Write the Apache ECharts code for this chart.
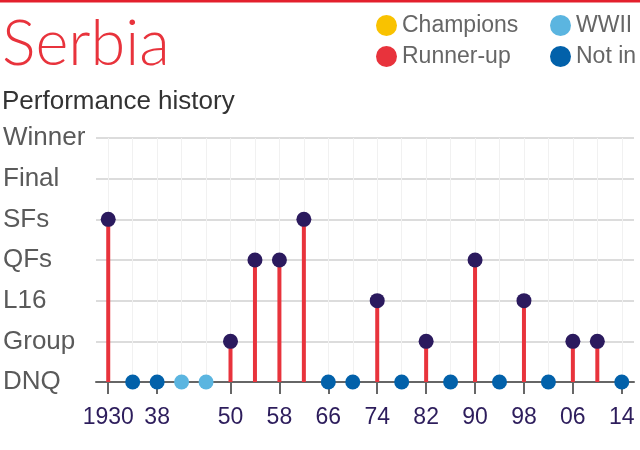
<!DOCTYPE html>
<html>
<head>
<meta charset="utf-8">
<script src="https://cdn.jsdelivr.net/npm/echarts@6/dist/echarts.min.js"></script>
<style>
html,body{margin:0;padding:0;background:#fff;}
#chart{width:640px;height:450px;}
</style>
</head>
<body>
<div id="chart"></div>
<script>
// ---- data ----
const years = [1930,1934,1938,1942,1946,1950,1954,1958,1962,1966,1970,1974,1978,1982,1986,1990,1994,1998,2002,2006,2010,2014];
const results = ['SFs','DNQ','DNQ','WWII','WWII','Group','QFs','QFs','SFs','DNQ','DNQ','L16','DNQ','Group','DNQ','QFs','DNQ','L16','DNQ','Group','Group','DNQ'];
const stageLabels = ['DNQ','Group','L16','QFs','SFs','Final','Winner'];
const tickYears = [1930,1938,1950,1958,1966,1974,1982,1990,1998,2006,2014];
const tickLabels = ['1930','38','50','58','66','74','82','90','98','06','14'];
const legendNames = ['Champions','Runner-up','WWII','Not in'];

const FONT = "'Liberation Sans', Arial, sans-serif";
const level = r => (r === 'WWII' ? 0 : stageLabels.indexOf(r));

const played = [], notIn = [], wwii = [];
years.forEach((y, i) => {
  const r = results[i];
  if (r === 'WWII') wwii.push([y, 0]);
  else if (r === 'DNQ') notIn.push([y, 0]);
  else played.push([y, level(r)]);
});

const chart = echarts.init(document.getElementById('chart'), null, {renderer: 'canvas'});
chart.setOption({
  animation: false,
  backgroundColor: '#ffffff',
  graphic: [{
    type: 'rect', left: 0, top: 0, shape: {width: 640, height: 2.5},
    style: {fill: '#e3202d'}, silent: true
  }],
  title: [{
    text: 'Serbia', left: 2, top: 13, padding: 0,
    textStyle: {fontFamily: 'Lato, sans-serif', fontWeight: 300, fontSize: 63, color: '#e8333c'}
  }, {
    text: 'Performance history', left: 2, top: 89, padding: 0,
    textStyle: {fontFamily: FONT, fontWeight: 'normal', fontSize: 26, color: '#333333'}
  }],
  legend: [{
    orient: 'vertical', left: 371, top: 9, itemGap: 8,
    itemWidth: 21, itemHeight: 21, icon: 'circle',
    data: [legendNames[0], legendNames[1]],
    textStyle: {fontFamily: FONT, fontSize: 23, color: '#666666'}
  }, {
    orient: 'vertical', left: 545, top: 9, itemGap: 8,
    itemWidth: 21, itemHeight: 21, icon: 'circle',
    data: [legendNames[2], legendNames[3]],
    textStyle: {fontFamily: FONT, fontSize: 23, color: '#666666'}
  }],
  grid: {left: 94, right: 6, top: 138, bottom: 68, containLabel: false},
  xAxis: {
    type: 'value', min: 1928, max: 2016,
    axisLine: {show: true, lineStyle: {color: '#666666', width: 2}},
    axisTick: {show: true, length: 12, customValues: tickYears, lineStyle: {color: '#666666', width: 2}},
    axisLabel: {
      show: true, customValues: tickYears, margin: 24,
      fontFamily: FONT, fontSize: 23, color: '#2d1d5c',
      formatter: v => tickLabels[tickYears.indexOf(v)]
    },
    splitLine: {show: false}
  },
  yAxis: {
    type: 'value', min: 0, max: 6, interval: 1,
    axisLine: {show: false}, axisTick: {show: false},
    axisLabel: {
      show: true, align: 'left', margin: 93,
      fontFamily: FONT, fontSize: 26, color: '#5a5a5a',
      formatter: v => stageLabels[v]
    },
    splitLine: {show: true, lineStyle: {color: '#dcdcdc', width: 2}}
  },
  series: [{
    name: 'stems', type: 'bar', barWidth: 4, data: played,
    itemStyle: {color: '#e8333c'}, z: 3, silent: true,
    markLine: {
      silent: true, symbol: 'none', label: {show: false},
      lineStyle: {color: '#f1f1f1', width: 1, type: 'solid'},
      data: years.map(y => ({xAxis: y})), z: 1
    }
  }, {
    name: 'Played', type: 'scatter', data: played, symbolSize: 15,
    itemStyle: {color: '#2b1a5e', opacity: 1}, z: 5
  }, {
    name: legendNames[3], type: 'scatter', data: notIn, symbolSize: 15,
    itemStyle: {color: '#0261aa', opacity: 1}, z: 5
  }, {
    name: legendNames[2], type: 'scatter', data: wwii, symbolSize: 15,
    itemStyle: {color: '#5bb5e0', opacity: 1}, z: 5
  }, {
    name: legendNames[0], type: 'scatter', data: [], itemStyle: {color: '#f9c200', opacity: 1}
  }, {
    name: legendNames[1], type: 'scatter', data: [], itemStyle: {color: '#e8333c', opacity: 1}
  }]
});
</script>
</body>
</html>
